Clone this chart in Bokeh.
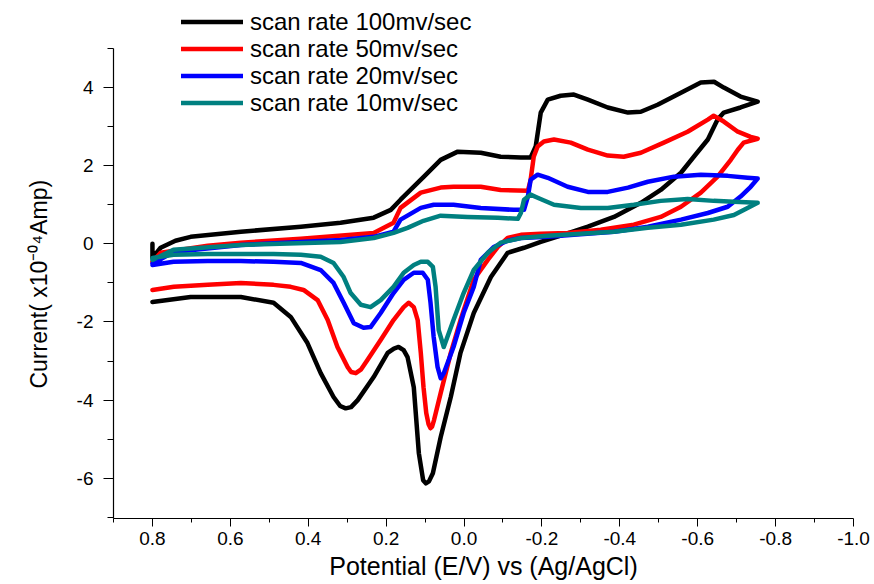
from bokeh.plotting import figure
from bokeh.models import Range1d, FixedTicker, PrintfTickFormatter, Legend, LegendItem, Title
from bokeh.embed import file_html
from bokeh.resources import INLINE

# ---------------- data (potential V, current x1e-4 A) ----------------
labels = ["scan rate 100mv/sec", "scan rate 50mv/sec", "scan rate 20mv/sec", "scan rate 10mv/sec"]
colors = ["#000000", "#ff0000", "#0000ff", "#008080"]

x_100 = [0.800, 0.800, 0.779, 0.741, 0.702, 0.573, 0.419, 0.317, 0.232, 0.188, 0.163, 0.103, 0.060, 0.016,
         -0.043, -0.094, -0.146, -0.171, -0.184, -0.197, -0.215, -0.248, -0.282, -0.318, -0.369, -0.421,
         -0.454, -0.497, -0.557, -0.608, -0.642, -0.667, -0.710, -0.754,
         -0.710, -0.667, -0.651, -0.626, -0.590, -0.557, -0.505, -0.454, -0.385, -0.318, -0.248, -0.197,
         -0.154, -0.112, -0.069, -0.025, 0.009, 0.034, 0.060, 0.080, 0.090, 0.098, 0.105, 0.116, 0.129,
         0.145, 0.155, 0.168, 0.180, 0.196, 0.232, 0.273, 0.290, 0.304, 0.318, 0.335, 0.368, 0.402,
         0.445, 0.489, 0.573, 0.702, 0.800]
y_100 = [0.00, -0.36, -0.10, 0.08, 0.18, 0.31, 0.44, 0.54, 0.67, 0.87, 1.13, 1.72, 2.15, 2.36,
         2.33, 2.23, 2.21, 2.21, 2.49, 3.36, 3.69, 3.79, 3.82, 3.69, 3.49, 3.36,
         3.38, 3.56, 3.87, 4.13, 4.15, 4.00, 3.77, 3.64,
         3.49, 3.36, 3.18, 2.67, 2.23, 1.82, 1.38, 1.05, 0.69, 0.44, 0.21, 0.05,
         -0.10, -0.23, -0.85, -1.77, -2.79, -3.92, -4.95, -5.87, -6.08, -6.13, -6.05, -5.36, -3.67,
         -2.90, -2.72, -2.64, -2.68, -2.79, -3.41, -4.00, -4.18, -4.21, -4.15, -3.92, -3.31, -2.54,
         -1.87, -1.51, -1.36, -1.36, -1.49]

x_50 = [0.800, 0.779, 0.658, 0.573, 0.419, 0.232, 0.181, 0.163, 0.111, 0.060, 0.027, -0.043, -0.094,
        -0.164, -0.171, -0.179, -0.189, -0.205, -0.231, -0.274, -0.318, -0.369, -0.410, -0.454, -0.513,
        -0.574, -0.626, -0.641, -0.667, -0.703, -0.736, -0.754,
        -0.718, -0.703, -0.685, -0.651, -0.608, -0.557, -0.505, -0.436, -0.351, -0.266, -0.197, -0.146,
        -0.112, -0.087, -0.061, -0.025, 0.009, 0.034, 0.060, 0.077, 0.082, 0.086, 0.091, 0.097, 0.104,
        0.111, 0.119, 0.129, 0.142, 0.155, 0.181, 0.214, 0.248, 0.265, 0.278, 0.290, 0.299, 0.325,
        0.350, 0.376, 0.412, 0.445, 0.489, 0.573, 0.658, 0.745, 0.800]
y_50 = [-0.46, -0.23, -0.05, 0.03, 0.13, 0.28, 0.54, 0.92, 1.31, 1.44, 1.46, 1.46, 1.38,
        1.36, 1.64, 2.23, 2.49, 2.62, 2.67, 2.59, 2.41, 2.26, 2.23, 2.33, 2.59,
        2.87, 3.18, 3.28, 3.13, 2.87, 2.74, 2.69,
        2.59, 2.41, 2.15, 1.72, 1.31, 0.95, 0.69, 0.49, 0.36, 0.28, 0.26, 0.23,
        0.15, -0.08, -0.41, -0.92, -1.95, -2.79, -3.82, -4.51, -4.68, -4.72, -4.62, -4.33, -3.67,
        -2.79, -1.95, -1.62, -1.51, -1.62, -1.95, -2.46, -2.97, -3.22, -3.31, -3.28, -3.15, -2.64,
        -1.95, -1.44, -1.18, -1.10, -1.05, -1.00, -1.05, -1.10, -1.18]

x_20 = [0.800, 0.746, 0.573, 0.317, 0.232, 0.181, 0.163, 0.111, 0.078, 0.027, -0.043, -0.128, -0.154,
        -0.164, -0.171, -0.189, -0.215, -0.266, -0.318, -0.369, -0.421, -0.472, -0.539, -0.608, -0.677,
        -0.728, -0.754,
        -0.736, -0.710, -0.677, -0.626, -0.557, -0.472, -0.385, -0.282, -0.215, -0.146, -0.112, -0.076,
        -0.043, -0.025, 0.001, 0.027, 0.052, 0.060, 0.068, 0.078, 0.086, 0.093, 0.106, 0.129, 0.155,
        0.181, 0.214, 0.240, 0.258, 0.283, 0.309, 0.335, 0.368, 0.419, 0.489, 0.573, 0.658, 0.746, 0.800]
y_20 = [-0.51, -0.21, -0.03, 0.10, 0.18, 0.31, 0.62, 0.92, 1.00, 1.00, 0.92, 0.87, 0.87,
        1.21, 1.64, 1.77, 1.69, 1.46, 1.33, 1.33, 1.44, 1.59, 1.72, 1.77, 1.74,
        1.69, 1.67,
        1.46, 1.21, 0.95, 0.79, 0.62, 0.44, 0.31, 0.23, 0.18, 0.15, 0.08, -0.08,
        -0.41, -1.10, -1.77, -2.64, -3.31, -3.44, -3.15, -2.38, -1.51, -0.92, -0.74, -0.74, -0.92,
        -1.26, -1.77, -2.13, -2.15, -2.03, -1.51, -1.00, -0.67, -0.49, -0.46, -0.44, -0.44, -0.46, -0.54]

x_10 = [0.800, 0.746, 0.573, 0.317, 0.232, 0.181, 0.145, 0.104, 0.060, -0.009, -0.087, -0.138, -0.146,
        -0.154, -0.171, -0.189, -0.231, -0.300, -0.369, -0.436, -0.505, -0.574, -0.641, -0.693, -0.754,
        -0.728, -0.693, -0.641, -0.557, -0.472, -0.385, -0.300, -0.215, -0.146, -0.094, -0.061, -0.025,
        0.001, 0.027, 0.052, 0.065, 0.073, 0.080, 0.093, 0.111, 0.129, 0.155, 0.181, 0.214, 0.240,
        0.265, 0.291, 0.309, 0.335, 0.368, 0.419, 0.489, 0.573, 0.658, 0.746, 0.800]
y_10 = [-0.41, -0.15, -0.03, 0.05, 0.15, 0.28, 0.41, 0.59, 0.72, 0.69, 0.67, 0.64, 0.79,
        1.13, 1.26, 1.18, 1.00, 0.92, 0.92, 1.00, 1.10, 1.15, 1.10, 1.08, 1.05,
        0.92, 0.74, 0.62, 0.49, 0.41, 0.31, 0.26, 0.21, 0.15, 0.03, -0.23, -0.67,
        -1.26, -1.95, -2.64, -2.21, -1.10, -0.59, -0.46, -0.46, -0.54, -0.74, -1.10, -1.44, -1.62,
        -1.56, -1.26, -0.85, -0.49, -0.33, -0.28, -0.26, -0.26, -0.26, -0.28, -0.36]

x_ticks = [0.8, 0.6, 0.4, 0.2, 0.0, -0.2, -0.4, -0.6, -0.8, -1.0]
x_minor = [0.9, 0.7, 0.5, 0.3, 0.1, -0.1, -0.3, -0.5, -0.7, -0.9]
y_ticks = [-6, -4, -2, 0, 2, 4]
y_minor = [-7, -5, -3, -1, 1, 3, 5]

x_title = "Potential (E/V) vs (Ag/AgCl)"
y_title = "Current( x10\u207b\u2070\u2074Amp)"

FONT = "Liberation Sans"

# frame spans from the canvas top to the x axis; y axis line limited to [-7.03, 5]
PX_PER_UNIT = 470 / 12.03
Y_LOW, Y_AXIS_TOP = -7.03, 5.0
Y_HIGH = Y_LOW + 518 / PX_PER_UNIT

p = figure(width=874, height=584, output_backend="svg", toolbar_location=None,
           x_range=Range1d(0.9, -1.0), y_range=Range1d(Y_LOW, Y_HIGH),
           min_border_left=113, min_border_right=21, min_border_top=0, min_border_bottom=66)
p.background_fill_color = "white"
p.border_fill_color = "white"
p.outline_line_color = None
p.xgrid.visible = False
p.ygrid.visible = False

series = [(x_100, y_100), (x_50, y_50), (x_20, y_20), (x_10, y_10)]
renderers = []
for (xs, ys), c in zip(series, colors):
    r = p.line(xs, ys, line_color=c, line_width=4.5, line_join="round", line_cap="round")
    renderers.append(r)

for ax in (p.xaxis[0], p.yaxis[0]):
    ax.axis_line_color = "black"
    ax.axis_line_width = 1.2
    ax.major_tick_line_color = "black"
    ax.minor_tick_line_color = "black"
    ax.major_tick_in = 0
    ax.minor_tick_in = 0
    ax.major_label_text_color = "black"
    ax.major_label_text_font = FONT
    ax.major_label_text_font_size = "19px"
    ax.axis_label_text_font = FONT
    ax.axis_label_text_font_style = "normal"
    ax.axis_label_text_color = "black"
    ax.axis_label_text_font_size = "25px"

p.xaxis.ticker = FixedTicker(ticks=x_ticks, minor_ticks=x_minor)
p.xaxis.formatter = PrintfTickFormatter(format="%.1f")
p.xaxis.major_tick_out = 8
p.xaxis.minor_tick_out = 4
p.xaxis.major_label_standoff = 5
p.xaxis.axis_label = x_title
p.xaxis.axis_label_standoff = 4

p.yaxis.ticker = FixedTicker(ticks=y_ticks, minor_ticks=y_minor)
p.yaxis.formatter = PrintfTickFormatter(format="%d")
p.yaxis.bounds = (Y_LOW, Y_AXIS_TOP)
p.yaxis.major_tick_out = 10
p.yaxis.minor_tick_out = 6
p.yaxis.major_label_standoff = 10

# y title as a left-side title so it can be centred on the visible axis (not the taller frame)
p.add_layout(Title(text=y_title, align="left", offset=130, standoff=44,
                   text_font=FONT, text_font_size="23px", text_font_style="normal",
                   text_color="black"), "left")

# one legend box per row
row_centers = [22.0, 49.0, 76.0, 103.0]
LEG_H = 27
for lab, r, yc in zip(labels, renderers, row_centers):
    leg = Legend(items=[LegendItem(label=lab, renderers=[r])],
                 location=(68, 518 - yc - LEG_H / 2), orientation="vertical",
                 background_fill_alpha=0, border_line_color=None,
                 padding=0, margin=0, spacing=0,
                 glyph_width=62, glyph_height=LEG_H, label_height=LEG_H, label_standoff=7,
                 label_text_font=FONT, label_text_font_size="24px", label_text_color="black",
                 label_text_baseline="middle")
    p.add_layout(leg, "center")

open("out.html", "w").write(file_html(p, INLINE))
